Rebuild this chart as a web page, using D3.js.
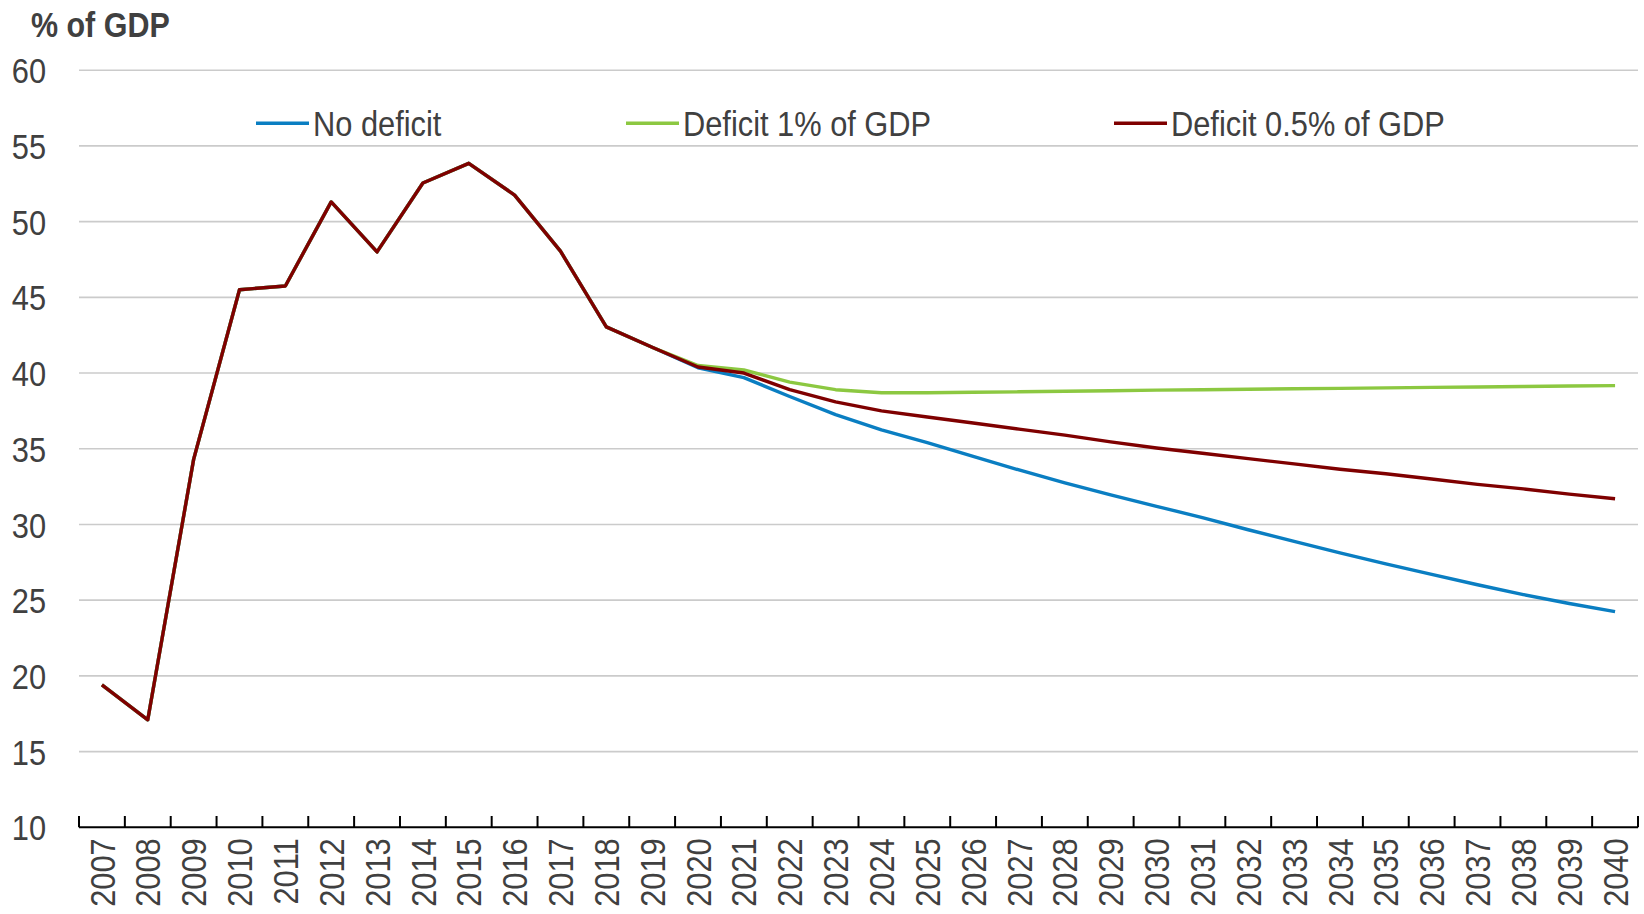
<!DOCTYPE html>
<html>
<head>
<meta charset="utf-8">
<script src="https://cdn.jsdelivr.net/npm/d3@7"></script>
<style>
  body { margin: 0; background: #fff; }
  text { font-family: "Liberation Sans", Arial, sans-serif; fill: #404040; }
</style>
</head>
<body>
<div id="chart"></div>
<script>
let years = ['2007','2008','2009','2010','2011','2012','2013','2014','2015','2016','2017','2018','2019',
    '2020','2021','2022','2023','2024','2025','2026','2027','2028','2029','2030',
    '2031','2032','2033','2034','2035','2036','2037','2038','2039','2040'];

// 2007-2019, same for every scenario
let history = [19.4, 17.1, 34.3, 45.5, 45.75, 51.3, 48.0, 52.55, 53.85, 51.75, 48.05, 43.05, 41.7];

// 2020-2040
let no_deficit = [40.35, 39.7, 38.45, 37.25, 36.25, 35.4, 34.5, 33.6, 32.75, 31.95, 31.2,
    30.45, 29.65, 28.88, 28.13, 27.4, 26.7, 26.02, 25.37, 24.78, 24.24];
let deficit_1 = [40.5, 40.2, 39.4, 38.9, 38.7, 38.7, 38.73, 38.76, 38.8, 38.83, 38.87,
    38.9, 38.93, 38.96, 38.99, 39.02, 39.05, 39.08, 39.11, 39.14, 39.17];
let deficit_05 = [40.4, 40.0, 38.9, 38.1, 37.5, 37.1, 36.7, 36.3, 35.9, 35.45, 35.05,
    34.7, 34.35, 34.0, 33.65, 33.35, 33.0, 32.65, 32.35, 32.0, 31.7];

let y_ticks = [10, 15, 20, 25, 30, 35, 40, 45, 50, 55, 60];

let series = [
    { name: 'No deficit', values: history.concat(no_deficit), color: '#0A7EC2' },
    { name: 'Deficit 1% of GDP', values: history.concat(deficit_1), color: '#8CC841' },
    { name: 'Deficit 0.5% of GDP', values: history.concat(deficit_05), color: '#7F0000' }
];

let chart_width = 1644;
let chart_height = 914;
// narrow look: squeeze Liberation Sans horizontally
let squeeze = ' scale(0.88,1)';

let svg = d3.select('#chart')
    .append('svg')
    .attr('width', chart_width)
    .attr('height', chart_height);

let x_scale = d3.scaleBand()
    .domain(years)
    .range([79, 1638]);

let y_scale = d3.scaleLinear()
    .domain([10, 60])
    .range([827.3, 70.2]);

// Gridlines
svg.selectAll('.grid')
    .data(y_ticks.filter(function(d){ return d > 10; }))
    .enter()
    .append('line')
    .attr('x1', 79)
    .attr('x2', 1638)
    .attr('y1', function(d){ return y_scale(d); })
    .attr('y2', function(d){ return y_scale(d); })
    .attr('stroke', '#cbcbcb')
    .attr('stroke-width', 1.6);

// Y labels
let y_axis = d3.axisLeft(y_scale).tickValues(y_ticks).tickSize(0).tickPadding(0);
svg.append('g')
    .attr('transform', 'translate(46,0)')
    .call(y_axis)
    .call(function(g){ g.select('.domain').remove(); })
    .selectAll('text')
    .attr('font-size', 35)
    .attr('font-family', null)
    .attr('fill', '#404040')
    .attr('x', 0)
    .attr('dy', '0.36em')
    .attr('transform', 'translate(0,0)' + squeeze);

// X axis
let x_axis = d3.axisBottom(x_scale).tickSize(0).tickPadding(0);
let xg = svg.append('g')
    .attr('transform', 'translate(0,827.3)')
    .call(x_axis);
xg.select('.domain')
    .attr('d', 'M79,0H1638')
    .attr('stroke', '#000')
    .attr('stroke-width', 2);
xg.selectAll('text')
    .attr('font-size', 35)
    .attr('font-family', null)
    .attr('fill', '#404040')
    .attr('text-anchor', 'end')
    .attr('transform', 'translate(0,11) rotate(-90)' + squeeze)
    .attr('x', 0)
    .attr('y', 0)
    .attr('dy', '0.36em');

// boundary tick marks
let bounds = years.map(function(d){ return x_scale(d); }).concat([x_scale.range()[1]]);
svg.selectAll('.xtick')
    .data(bounds)
    .enter()
    .append('line')
    .attr('x1', function(d){ return d; })
    .attr('x2', function(d){ return d; })
    .attr('y1', 827.3)
    .attr('y2', 816)
    .attr('stroke', '#000')
    .attr('stroke-width', 2);

// Lines
let line = d3.line()
    .x(function(d, i){ return x_scale(years[i]) + x_scale.bandwidth() / 2; })
    .y(function(d){ return y_scale(d); });

svg.selectAll('.series')
    .data(series)
    .enter()
    .append('path')
    .attr('d', function(d){ return line(d.values); })
    .attr('fill', 'none')
    .attr('stroke', function(d){ return d.color; })
    .attr('stroke-width', 3.4)
    .attr('stroke-linejoin', 'round');

// Legend
let legend_x = [256, 626, 1114];
let legend = svg.selectAll('.legend')
    .data(series)
    .enter()
    .append('g')
    .attr('transform', function(d, i){ return 'translate(' + legend_x[i] + ',123.3)'; });

legend.append('line')
    .attr('x1', 0)
    .attr('x2', 53)
    .attr('stroke', function(d){ return d.color; })
    .attr('stroke-width', 3.6);

legend.append('text')
    .text(function(d){ return d.name; })
    .attr('transform', 'translate(57,0)' + squeeze)
    .attr('dy', '0.36em')
    .attr('font-size', 35);

// Title
svg.append('text')
    .text('% of GDP')
    .attr('transform', 'translate(31,36.7) scale(0.87,1)')
    .attr('font-size', 35)
    .attr('font-weight', 'bold');
</script>
</body>
</html>
